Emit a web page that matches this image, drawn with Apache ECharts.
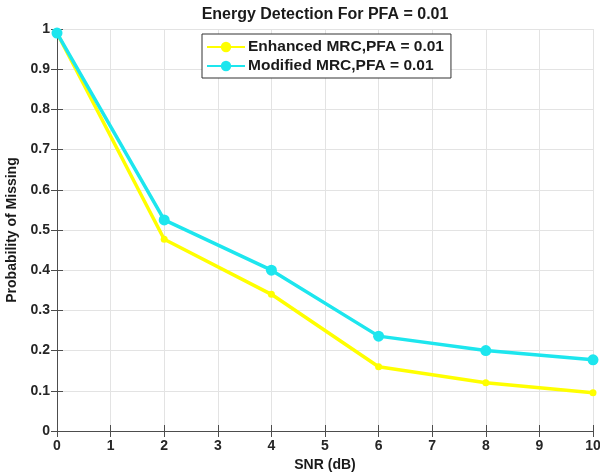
<!DOCTYPE html>
<html>
<head>
<meta charset="utf-8">
<script src="https://cdn.jsdelivr.net/npm/echarts@6/dist/echarts.min.js"></script>
<style>
  html, body { margin: 0; padding: 0; background: #fff; }
  #chart { width: 600px; height: 475px; }
</style>
</head>
<body>
<div id="chart"></div>
<script>
// SNR points (dB)
const snr = [0, 2, 4, 6, 8, 10]
// probability of missing
const enhanced = [0.99, 0.477, 0.34, 0.16, 0.12, 0.095]
const modified = [0.99, 0.525, 0.4, 0.236, 0.2, 0.177]

const seriesNames = ['Enhanced MRC,PFA = 0.01', 'Modified MRC,PFA = 0.01']

const chart = echarts.init(document.getElementById('chart'))

const axisColor = '#4d4d4d'
const font = 'Arial, "Liberation Sans", sans-serif'

function pairs(ys) {
  return snr.map((x, i) => [x, ys[i]])
}

function tickInside() {
  return { show: true, inside: true, length: 6, lineStyle: { color: axisColor } }
}

chart.setOption({
  animation: false,
  title: {
    text: 'Energy Detection For PFA = 0.01',
    left: 320,
    textAlign: 'center',
    top: 2,
    textStyle: { fontFamily: font, fontSize: 16, fontWeight: 'bold', color: '#1a1a1a' }
  },
  legend: {
    orient: 'vertical',
    left: 202,
    top: 34,
    padding: [5, 7, 4, 4],
    itemGap: 3,
    itemWidth: 38,
    itemHeight: 13,
    borderColor: '#333',
    borderWidth: 1,
    backgroundColor: '#fff',
    textStyle: { fontFamily: font, fontSize: 15.5, fontWeight: 'bold', color: '#1a1a1a', padding: [0, 0, 0, -2] },
    data: seriesNames
  },
  grid: { left: 57, right: 7, top: 29, bottom: 44, outerBoundsMode: 'none', containLabel: false },
  xAxis: [{
    type: 'value',
    min: 0,
    max: 10,
    interval: 1,
    name: 'SNR (dB)',
    nameLocation: 'middle',
    nameGap: 27,
    nameTextStyle: { fontFamily: font, fontSize: 14, fontWeight: 'bold', color: '#1a1a1a' },
    axisLine: { lineStyle: { color: axisColor } },
    axisTick: tickInside(),
    axisLabel: { fontFamily: font, fontSize: 14, fontWeight: 'bold', color: '#262626', margin: 8 },
    splitLine: { show: true, lineStyle: { color: '#e3e3e3' } }
  }, {
    type: 'value',
    position: 'top',
    min: 0,
    max: 10,
    interval: 1,
    axisLine: { show: true, lineStyle: { color: axisColor } },
    axisTick: tickInside(),
    axisLabel: { show: false },
    splitLine: { show: false }
  }],
  yAxis: [{
    type: 'value',
    min: 0,
    max: 1,
    interval: 0.1,
    name: 'Probability of Missing',
    nameLocation: 'middle',
    nameGap: 38,
    nameTextStyle: { fontFamily: font, fontSize: 14, fontWeight: 'bold', color: '#1a1a1a' },
    axisLine: { show: true, lineStyle: { color: axisColor } },
    axisTick: tickInside(),
    axisLabel: {
      fontFamily: font, fontSize: 14, fontWeight: 'bold', color: '#262626', margin: 7,
      formatter: v => String(Math.round(v * 10) / 10)
    },
    splitLine: { show: true, lineStyle: { color: '#e3e3e3' } }
  }, {
    type: 'value',
    position: 'right',
    min: 0,
    max: 1,
    interval: 0.1,
    axisLine: { show: true, lineStyle: { color: axisColor } },
    axisTick: tickInside(),
    axisLabel: { show: false },
    splitLine: { show: false }
  }],
  series: [{
    name: seriesNames[0],
    type: 'line',
    data: pairs(enhanced),
    symbol: 'circle',
    symbolSize: 7,
    lineStyle: { color: '#ffff00', width: 3.5 },
    itemStyle: { color: '#ffff00' },
    z: 3
  }, {
    name: seriesNames[1],
    type: 'line',
    data: pairs(modified),
    symbol: 'circle',
    symbolSize: 11,
    lineStyle: { color: '#1de6ee', width: 3.5 },
    itemStyle: { color: '#1de6ee' },
    z: 4
  }]
})
</script>
</body>
</html>
